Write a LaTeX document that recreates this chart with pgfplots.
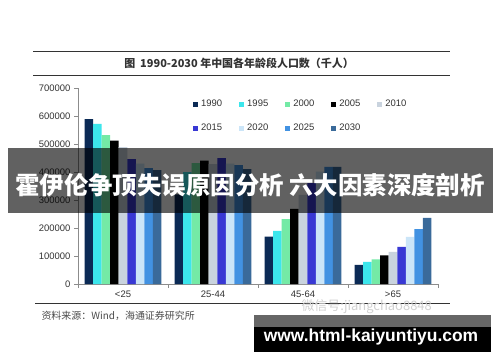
\documentclass[border=0pt]{standalone}
\usepackage{pgfplots}
\pgfplotsset{compat=1.18}
\usepackage{fontspec}
\setmainfont{Liberation Sans}
\newfontfamily\cjk{Noto Sans CJK SC}
\definecolor{c1990}{HTML}{0B2A55}
\definecolor{c1995}{HTML}{3CE6EC}
\definecolor{c2000}{HTML}{74EAA6}
\definecolor{c2005}{HTML}{000000}
\definecolor{c2010}{HTML}{C9D3DE}
\definecolor{c2015}{HTML}{3838D4}
\definecolor{c2020}{HTML}{CBE5F8}
\definecolor{c2025}{HTML}{4292E2}
\definecolor{c2030}{HTML}{3A6A9A}
\definecolor{txt}{HTML}{333333}
\begin{document}
\begin{tikzpicture}[x=1bp,y=1bp]
\fill[white] (0,0) rectangle (500,362);
\useasboundingbox (0,0) rectangle (500,362);
% title rules
\draw[line width=1pt,color=txt] (33,311) -- (450,311);
\draw[line width=1pt,color=txt] (33,287) -- (450,287);
\node[font=\cjk\bfseries\fontsize{11}{13}\selectfont,text=txt] at (239,299) {图\ \ 1990-2030 年中国各年龄段人口数（千人）};
\begin{axis}[
  at={(78bp,78bp)}, anchor=south west,
  scale only axis, width=360bp, height=196bp,
  ybar=0pt, bar width=0.095,
  xmin=-0.5, xmax=3.5, ymin=0, ymax=700000,
  axis lines*=left,
  axis line style={color=black!45},
  xtick={0,1,2,3}, xticklabels={<25,25-44,45-64,>65},
  minor xtick={-0.5,0.5,1.5,2.5,3.5},
  ytick={0,100000,...,700000},
  tick align=outside,
  major tick length=4bp, minor tick length=4bp,
  x tick style={draw=none}, minor x tick style={draw=black!45},
  y tick style={color=black!45},
  scaled y ticks=false,
  yticklabel style={/pgf/number format/fixed,/pgf/number format/1000 sep={}},
  /pgf/number format/assume math mode=true,
  ticklabel style={font=\fontsize{9.5}{11}\selectfont, text=txt},
  xticklabel style={yshift=1bp},
  legend columns=5,
  legend style={draw=none, fill=none, at={(112bp,188bp)}, anchor=north west,
     font=\fontsize{9.5}{11}\selectfont, text=txt,
     /tikz/every odd column/.append style={column sep=1bp},
     /tikz/every even column/.append style={column sep=15bp},
     row sep=12bp},
  legend cell align=left,
  legend image code/.code={\fill[#1] (0bp,-2.5bp) rectangle (5bp,2.5bp);},
  every axis plot/.append style={draw=none},
]
\addplot[fill=c1990] coordinates {(0,589000) (1,320000) (2,169000) (3,68000)};
\addplot[fill=c1995] coordinates {(0,572000) (1,400000) (2,190000) (3,79000)};
\addplot[fill=c2000] coordinates {(0,532000) (1,432000) (2,232000) (3,88000)};
\addplot[fill=c2005] coordinates {(0,512000) (1,441000) (2,268000) (3,102000)};
\addplot[fill=c2010] coordinates {(0,489000) (1,428000) (2,318000) (3,115000)};
\addplot[fill=c2015] coordinates {(0,446000) (1,450000) (2,360000) (3,133000)};
\addplot[fill=c2020] coordinates {(0,430000) (1,430000) (2,401000) (3,168000)};
\addplot[fill=c2025] coordinates {(0,414000) (1,425000) (2,418000) (3,196000)};
\addplot[fill=c2030] coordinates {(0,407000) (1,410000) (2,418000) (3,236000)};
\legend{1990,1995,2000,2005,2010,2015,2020,2025,2030}
\end{axis}
% bottom rule and source
\draw[line width=1pt,color=txt] (35,59) -- (450,59);
\node[anchor=west,font=\cjk\fontsize{10}{12}\selectfont,text=black!70] at (38,46) {资料来源：Wind，海通证券研究所};
\node[anchor=west,font=\cjk\fontsize{13}{15}\selectfont,text=black!18] at (298,55) {微信号:jiangchao8848};
% banner
\fill[black,opacity=0.62] (8,149) rectangle (493,214);
\node[font=\cjk\bfseries\fontsize{24.5}{28}\selectfont,text=white] at (250,177) {霍伊伦争顶失误原因分析 六大因素深度剖析};
% site box
\fill[black!60] (254,35) rectangle (491,47);
\fill[black] (254,10) rectangle (491,35);
\node[font=\bfseries\fontsize{17.5}{20}\selectfont,text=white] at (371,25) {www.html-kaiyuntiyu.com};
\end{tikzpicture}
\end{document}
